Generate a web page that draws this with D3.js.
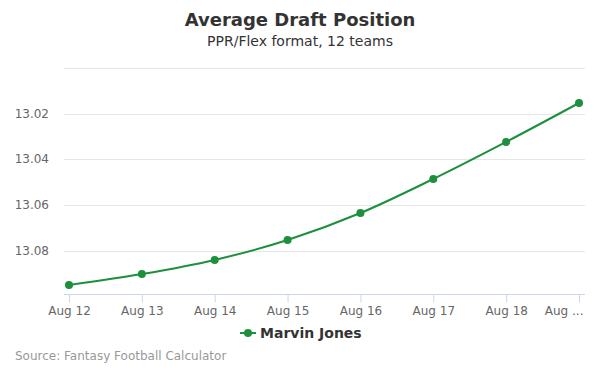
<!DOCTYPE html>
<html>
<head>
<meta charset="utf-8">
<script src="https://cdn.jsdelivr.net/npm/d3@7"></script>
<style>
  body { margin: 0; background: #fff; }
  svg { font-family: "DejaVu Sans", sans-serif; }
</style>
</head>
<body>
<div id="chart"></div>
<script>
// Data
const categories = ["Aug 12", "Aug 13", "Aug 14", "Aug 15", "Aug 16", "Aug 17", "Aug 18", "Aug 19"];
const adpValues = [13.0949, 13.0901, 13.0839, 13.0752, 13.0634, 13.0485, 13.0323, 13.0153];
const yTicks = [13.00, 13.02, 13.04, 13.06, 13.08];
const seriesName = "Marvin Jones";

const width = 600, height = 375;
const plot = {left: 64, right: 585, top: 68, bottom: 294};
const lineColor = "#1d8f3d";

const svg = d3.select("#chart").append("svg")
    .attr("width", width)
    .attr("height", height);

// Titles
svg.append("text")
    .attr("x", width / 2).attr("y", 26)
    .attr("text-anchor", "middle")
    .style("font-size", "18px").style("font-weight", "bold")
    .attr("fill", "#333")
    .text("Average Draft Position");
svg.append("text")
    .attr("x", width / 2).attr("y", 46)
    .attr("text-anchor", "middle")
    .style("font-size", "14px")
    .attr("fill", "#333")
    .text("PPR/Flex format, 12 teams");

// Scales (y reversed: lower ADP on top)
const x = d3.scalePoint()
    .domain(categories)
    .range([69, 579]);
const y = d3.scaleLinear()
    .domain([13.0, 13.0988])
    .range([plot.top, plot.bottom]);

// Gridlines
svg.append("g")
    .selectAll("line")
    .data(yTicks)
    .join("line")
    .attr("x1", plot.left).attr("x2", plot.right)
    .attr("y1", d => Math.round(y(d)) + 0.5)
    .attr("y2", d => Math.round(y(d)) + 0.5)
    .attr("stroke", "#e6e6e6");

// Y labels (first one hidden, like the reference)
svg.append("g")
    .selectAll("text")
    .data(yTicks.slice(1))
    .join("text")
    .attr("x", 49)
    .attr("y", d => y(d) + 4)
    .attr("text-anchor", "end")
    .style("font-size", "12px")
    .attr("fill", "#666")
    .text(d => d3.format(".2f")(d));

// X axis
const xAxis = d3.axisBottom(x).tickSize(6).tickPadding(5)
    .tickFormat((d, i) => i === categories.length - 1 ? "Aug ..." : d);
const gx = svg.append("g")
    .attr("transform", `translate(0, ${plot.bottom + 0.5})`)
    .call(xAxis);
gx.select(".domain").remove();
gx.append("line")
    .attr("x1", plot.left).attr("x2", plot.right)
    .attr("stroke", "#ccd6eb");
gx.selectAll(".tick line").attr("stroke", "#ccd6eb").attr("y2", 8);
gx.selectAll(".tick text")
    .style("font-size", "12px")
    .style("font-family", "DejaVu Sans, sans-serif")
    .attr("fill", "#666")
    .attr("y", 12);
// last label is clipped at the chart edge, right aligned
gx.selectAll(".tick text")
    .filter((d, i) => i === categories.length - 1)
    .attr("text-anchor", "end")
    .attr("x", 4);

// Line
const line = d3.line()
    .x((d, i) => x(categories[i]))
    .y(d => y(d))
    .curve(d3.curveMonotoneX);

svg.append("path")
    .datum(adpValues)
    .attr("d", line)
    .attr("fill", "none")
    .attr("stroke", lineColor)
    .attr("stroke-width", 2);

svg.append("g")
    .selectAll("circle")
    .data(adpValues)
    .join("circle")
    .attr("cx", (d, i) => x(categories[i]))
    .attr("cy", d => y(d))
    .attr("r", 4)
    .attr("fill", lineColor);

// Legend
const legend = svg.append("g").attr("transform", "translate(240, 333)");
legend.append("line")
    .attr("x1", 0).attr("x2", 16)
    .attr("stroke", lineColor).attr("stroke-width", 2);
legend.append("circle")
    .attr("cx", 8).attr("r", 4)
    .attr("fill", lineColor);
legend.append("text")
    .attr("x", 20).attr("y", 5)
    .style("font-size", "14px").style("font-weight", "bold")
    .attr("fill", "#333")
    .text(seriesName);

// Source
svg.append("text")
    .attr("x", 15).attr("y", 360)
    .style("font-size", "12px")
    .attr("fill", "#999")
    .text("Source: Fantasy Football Calculator");
</script>
</body>
</html>
